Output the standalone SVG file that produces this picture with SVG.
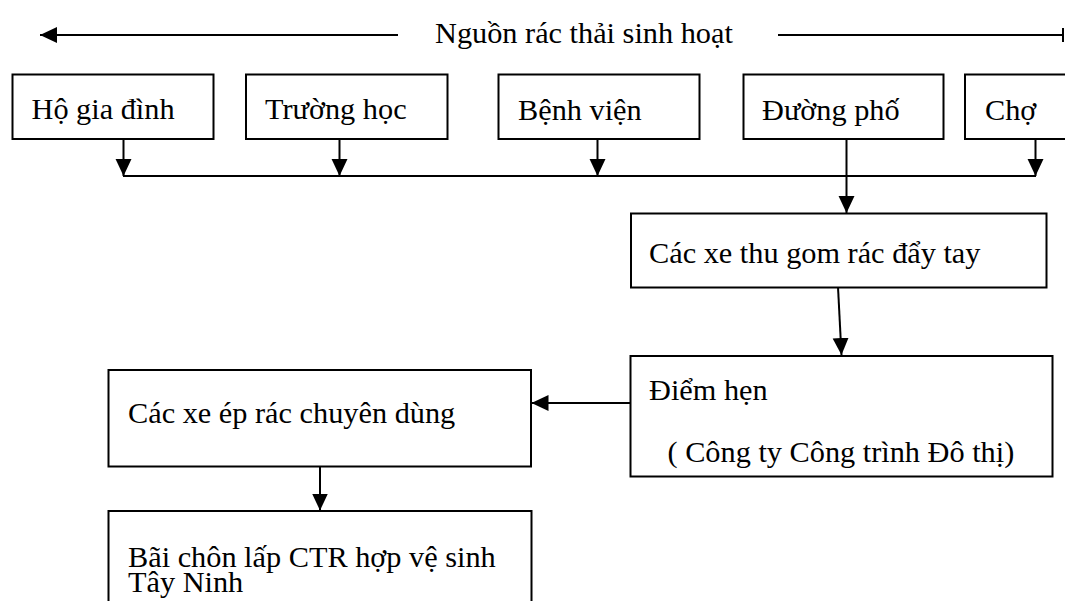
<svg xmlns="http://www.w3.org/2000/svg" width="1065" height="601" viewBox="0 0 1065 601">
<style>
.box{fill:#fff;stroke:#000;stroke-width:2}
.t{font-family:"Liberation Serif","Times New Roman",serif;font-size:30.3px;fill:#000}
.ln{fill:none;stroke:#000;stroke-width:2}
</style>
<defs>
<marker id="ah" markerUnits="userSpaceOnUse" markerWidth="17" markerHeight="17" viewBox="0 0 16 15" refX="16" refY="7.5" orient="auto">
<path d="M0,0 L16,7.5 L0,15 Z" fill="#000"/>
</marker>
</defs>
<rect width="1065" height="601" fill="#fff"/>
<g id="title">
<text class="t" x="435" y="43">Nguồn rác thải sinh hoạt</text>
</g>
<g id="connectors">
<line class="ln" x1="398" y1="35" x2="40" y2="35" marker-end="url(#ah)"/>
<line class="ln" x1="778" y1="35" x2="1063" y2="35"/>
<line class="ln" x1="1063" y1="28" x2="1063" y2="42"/>
<line class="ln" x1="123.5" y1="139" x2="123.5" y2="176" marker-end="url(#ah)"/>
<line class="ln" x1="339.5" y1="139" x2="339.5" y2="176" marker-end="url(#ah)"/>
<line class="ln" x1="597.5" y1="139" x2="597.5" y2="176" marker-end="url(#ah)"/>
<line class="ln" x1="1035.5" y1="139" x2="1035.5" y2="176" marker-end="url(#ah)"/>
<line class="ln" x1="123" y1="176" x2="1036" y2="176"/>
<line class="ln" x1="846.5" y1="139" x2="846.5" y2="213" marker-end="url(#ah)"/>
<line class="ln" x1="838" y1="287" x2="841.5" y2="355" marker-end="url(#ah)"/>
<line class="ln" x1="630" y1="403" x2="531.5" y2="403" marker-end="url(#ah)"/>
<line class="ln" x1="320" y1="447" x2="320" y2="510.5" marker-end="url(#ah)"/>
</g>
<g id="ho-gia-dinh">
<rect class="box" x="12.5" y="74.5" width="201" height="64.5"/>
<text class="t" x="31.5" y="119">Hộ gia đình</text>
</g>
<g id="truong-hoc">
<rect class="box" x="246" y="74.5" width="201.5" height="64.5"/>
<text class="t" x="265" y="119">Trường học</text>
</g>
<g id="benh-vien">
<rect class="box" x="498.5" y="74.5" width="201" height="64.5"/>
<text class="t" x="518" y="120">Bệnh viện</text>
</g>
<g id="duong-pho">
<rect class="box" x="743.5" y="74.5" width="200" height="64.5"/>
<text class="t" x="762" y="120">Đường phố</text>
</g>
<g id="cho">
<rect class="box" x="965" y="74.5" width="110" height="64.5"/>
<text class="t" x="985" y="120">Chợ</text>
</g>
<g id="xe-thu-gom">
<rect class="box" x="631" y="213.5" width="415.5" height="74"/>
<text class="t" x="649" y="263">Các xe thu gom rác đẩy tay</text>
</g>
<g id="diem-hen">
<rect class="box" x="630.5" y="356" width="422" height="120.5"/>
<text class="t" x="649" y="400">Điểm hẹn</text>
<text class="t" x="667.5" y="461.5">( Công ty Công trình Đô thị)</text>
</g>
<g id="xe-ep-rac">
<rect class="box" x="108.5" y="370" width="422.5" height="96.5"/>
<text class="t" x="128" y="423">Các xe ép rác chuyên dùng</text>
</g>
<g id="bai-chon-lap">
<rect class="box" x="108.5" y="511" width="423" height="110"/>
<text class="t" x="128" y="567">Bãi chôn lấp CTR hợp vệ sinh</text>
<text class="t" x="128" y="592">Tây Ninh</text>
</g>
</svg>
